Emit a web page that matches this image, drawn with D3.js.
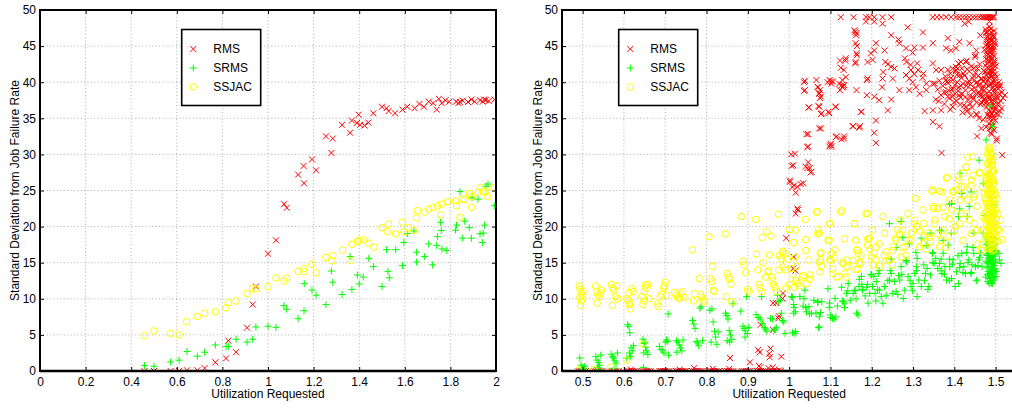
<!DOCTYPE html>
<html>
<head>
<meta charset="utf-8">
<script src="https://cdn.jsdelivr.net/npm/d3@7"></script>
<style>
  body { margin: 0; background: #fff; }
  svg text { font-family: "Liberation Sans", Arial, Helvetica, sans-serif; font-size: 12px; fill: #000; }
</style>
</head>
<body>
<svg id="chart" width="1012" height="408"></svg>
<script>
// ---- tick labels ----
var yTicks = [0, 5, 10, 15, 20, 25, 30, 35, 40, 45, 50];
var leftXTicks = [0, 0.2, 0.4, 0.6, 0.8, 1, 1.2, 1.4, 1.6, 1.8, 2];
var rightXTicks = [0.5, 0.6, 0.7, 0.8, 0.9, 1, 1.1, 1.2, 1.3, 1.4, 1.5];
var seriesNames = ["RMS", "SRMS", "SSJAC"];

// ---- left panel: [utilization, std dev] ----
var leftRMS = [
  [0.458,0],[0.5,0],[0.573,0],[0.61,0],[0.645,0.1],[0.69,0.1],[0.722,0.4],[0.769,1.2],
  [0.816,1.75],[0.826,4.2],[0.86,2.6],[0.908,6.0],[0.933,9.2],[0.947,11.7],[1.0,16.25],
  [1.035,18.1],[1.07,23.1],[1.082,22.6],[1.132,27.2],[1.156,28.4],[1.158,26.0],[1.193,29.3],
  [1.211,27.8],[1.254,32.5],[1.278,30.2],[1.284,32.2],[1.325,34.1],[1.36,33.0],[1.368,34.7],
  [1.398,35.5],[1.39,34.35],[1.404,34.1],[1.423,34.0],[1.44,34.4],[1.462,35.7],[1.5,36.6],
  [1.52,36.4],[1.529,36.0],[1.557,35.7],[1.59,36.2],[1.611,36.6],[1.643,36.4],[1.664,37.0],
  [1.684,36.6],[1.705,37.3],[1.725,37.1],[1.74,36.2],[1.749,37.7],[1.762,37.1],[1.778,37.5],
  [1.795,37.3],[1.825,37.3],[1.842,37.25],[1.854,37.45],[1.877,37.25],[1.892,37.6],[1.906,37.3],
  [1.93,37.5],[1.942,37.3],[1.956,37.55],[1.968,37.4],[1.994,37.6],[1.835,37.1],[1.948,37.6]
];
var leftSRMS = [
  [0.458,0.75],[0.5,0.65],[0.573,1.25],[0.61,1.5],[0.645,2.7],[0.69,2.05],[0.722,2.6],[0.769,3.6],
  [0.816,3.4],[0.826,3.4],[0.86,4.4],[0.908,4.0],[0.933,4.4],[0.947,6.1],[1.0,6.2],[1.035,6.05],
  [1.07,9.05],[1.082,8.55],[1.132,7.25],[1.158,8.35],[1.159,12.1],[1.193,11.2],[1.211,10.5],
  [1.254,9.2],[1.278,13.85],[1.284,12.3],[1.325,10.6],[1.36,15.85],[1.368,11.3],[1.392,13.3],
  [1.4,12.05],[1.418,13.0],[1.442,15.6],[1.462,14.45],[1.5,11.7],[1.52,16.8],[1.526,13.8],
  [1.532,12.9],[1.56,16.8],[1.59,14.6],[1.596,17.8],[1.611,19.05],[1.64,19.4],[1.652,15.1],
  [1.652,16.45],[1.687,15.85],[1.705,17.6],[1.722,14.7],[1.74,17.4],[1.743,18.6],[1.757,20.6],
  [1.76,19.45],[1.763,16.9],[1.784,16.7],[1.822,19.5],[1.827,20.2],[1.842,24.85],[1.854,18.4],
  [1.863,20.75],[1.883,19.85],[1.892,18.4],[1.895,24.0],[1.921,23.8],[1.93,19.0],[1.94,17.8],
  [1.944,19.1],[1.95,20.2],[1.956,25.6],[1.965,25.9],[1.994,22.9]
];
var leftSSJAC = [
  [0.458,4.9],[0.5,5.55],[0.573,5.2],[0.61,5.0],[0.643,6.85],[0.69,7.55],[0.722,8.0],[0.769,8.2],
  [0.816,8.75],[0.826,9.45],[0.86,9.7],[0.908,10.75],[0.933,11.45],[0.947,11.35],[1.0,11.7],
  [1.035,12.9],[1.07,12.45],[1.082,12.85],[1.132,13.8],[1.158,14.2],[1.158,13.75],[1.193,14.8],
  [1.211,13.6],[1.254,15.75],[1.281,15.25],[1.284,16.0],[1.327,16.75],[1.363,15.3],[1.368,17.55],
  [1.392,17.95],[1.4,18.1],[1.42,18.15],[1.442,17.7],[1.465,17.15],[1.5,19.85],[1.523,19.3],
  [1.529,20.35],[1.56,19.0],[1.59,20.6],[1.596,19.25],[1.617,19.85],[1.64,19.45],[1.652,21.2],
  [1.655,22.2],[1.687,22.0],[1.705,22.4],[1.722,22.65],[1.743,22.85],[1.757,21.65],[1.76,23.1],
  [1.787,23.45],[1.822,23.55],[1.827,22.85],[1.842,21.3],[1.854,23.8],[1.863,23.7],[1.883,24.6],
  [1.892,24.15],[1.892,22.65],[1.921,24.75],[1.933,25.4],[1.944,24.9],[1.956,24.85],[1.962,24.15],
  [1.991,25.4]
];

// ---- right panel ----
var rightRMS = [
  // zero row
  [0.488,0],[0.492,0],[0.497,0],[0.503,0],[0.508,0],[0.528,0],[0.533,0],[0.538,0],[0.543,0],[0.548,0],
  [0.567,0],[0.572,0],[0.577,0],[0.582,0],[0.588,0],[0.607,0],[0.611,0],[0.616,0],[0.621,0],[0.626,0],
  [0.631,0],[0.645,0],[0.65,0],[0.655,0],[0.66,0],[0.665,0],[0.686,0],[0.69,0],[0.695,0],[0.7,0],
  [0.705,0],[0.71,0],[0.726,0],[0.73,0],[0.735,0],[0.74,0],[0.745,0],[0.75,0],[0.765,0],[0.77,0],
  [0.775,0],[0.78,0],[0.785,0],[0.79,0],[0.805,0],[0.81,0],[0.815,0],[0.82,0],[0.825,0],[0.83,0],
  [0.845,0],[0.85,0],[0.855,0],[0.86,0],[0.865,0],[0.885,0],[0.89,0],[0.895,0],[0.9,0],[0.905,0],
  [0.922,0],[0.927,0],[0.932,0],[0.937,0],[0.942,0],[0.955,0],[0.96,0],[0.965,0],[0.97,0],[0.98,0],
  [0.77,0.4],[0.815,0.3],[0.855,0.3],[0.93,0.5],[0.95,0.4],[0.965,0.2],[0.617,0.2],[0.735,0.2],
  // low values before 1.0
  [0.857,1.8],[0.905,1.2],[0.925,2.9],[0.929,2.6],[0.927,0.7],[0.953,1.9],[0.955,3.1],[0.952,2.4],
  [0.961,9.4],[0.969,9.4],[0.975,7.6],[0.961,5.7],[0.974,7.3],[0.981,2.0],[0.985,10.75],[0.984,10.05],
  [0.993,18.4],[0.931,6.4],[0.976,0.1],[0.96,0.5],
  // jump after 1.0
  [1.002,26.2],[1.008,25.5],[1.01,28.5],[1.014,30.1],[1.011,15.8],[1.01,14.2],[1.015,13.9],[1.016,21.8],
  [1.02,22.5],[1.021,22.3],[1.016,24.7],[1.02,25.5],[1.034,26.0],[1.04,28.3],[1.046,28.9],[1.05,28.1],
  [1.054,27.6],[1.046,31.1],[1.046,32.8],[1.048,36.5],[1.038,40.2],[1.038,38.9],[1.005,30.0],[1.006,28.4],
  [1.044,28.1],[1.052,27.5],[1.002,26.4],[1.012,25.7],[1.028,25.9],[1.042,32.8],[1.044,31.0],
  // 1.06 - 1.35
  [1.066,40.3],[1.07,39.3],[1.073,38.5],[1.075,37.8],[1.071,36.7],[1.079,35.7],[1.077,33.6],[1.075,38.9],
  [1.098,40.3],[1.102,39.8],[1.106,40.1],[1.095,35.9],[1.1,31.3],[1.103,31.1],[1.113,36.6],[1.115,32.5],
  [1.127,32.1],[1.133,32.5],[1.123,38.9],[1.127,39.6],[1.131,39.4],[1.129,40.3],[1.123,43.0],[1.137,43.3],
  [1.132,41.7],[1.158,47.2],[1.163,46.8],[1.161,45.4],[1.163,44.0],[1.161,42.8],[1.163,38.9],[1.155,33.9],
  [1.171,33.9],[1.175,35.9],[1.069,39.35],[1.073,38.4],[1.077,38.0],[1.036,40.0],[1.036,38.8],[1.047,36.5],
  [1.073,36.6],[1.077,35.6],[1.097,35.7],[1.112,36.6],[1.073,33.6],[1.097,31.1],[1.101,31.5],[1.113,32.4],
  [1.133,32.2],[1.154,33.9],[1.17,33.7],[1.174,35.9],[1.21,34.7],[1.206,33.0],[1.21,31.6],[1.188,38.2],
  [1.206,38.0],[1.218,37.5],[1.239,36.1],[1.247,37.6],[1.267,38.9],[1.291,38.9],[1.316,38.4],[1.332,38.9],
  [1.348,36.1],[1.368,36.1],[1.328,36.0],[1.348,34.5],[1.364,33.9],[1.369,30.2],[1.137,40.7],[1.133,39.6],
  [1.129,39.3],[1.121,39.8],[1.101,40.1],[1.093,40.0],[1.228,41.4],[1.226,40.5],[1.225,39.3],[1.19,40.5],
  [1.188,40.3],[1.136,43.0],[1.125,42.0],[1.19,42.8],[1.202,43.1],[1.233,42.8],[1.239,42.5],[1.247,42.1],
  [1.255,41.9],[1.28,43.3],[1.284,42.8],[1.294,42.4],[1.31,42.6],[1.312,41.7],[1.283,41.0],[1.303,41.1],
  [1.325,41.2],[1.348,42.6],[1.356,41.7],[1.368,41.7],[1.384,41.7],[1.396,41.9],[1.404,41.7],[1.416,42.8],
  [1.428,42.8],[1.451,43.75],[1.21,45.4],[1.206,44.4],[1.231,44.4],[1.198,44.0],[1.164,45.0],[1.164,43.75],
  [1.16,42.6],[1.287,47.6],[1.324,46.9],[1.16,47.0],[1.162,46.5],[1.247,46.5],[1.265,45.9],[1.267,45.4],
  [1.283,44.7],[1.303,44.8],[1.299,44.1],[1.324,44.8],[1.348,45.4],[1.384,46.1],[1.412,45.6],[1.437,45.4],
  [1.38,44.7],[1.392,44.4],[1.404,44.7],[1.463,46.5],[1.453,44.4],[1.251,40.5],[1.291,40.5],[1.299,40.0],
  [1.307,39.3],[1.323,40.6],[1.332,39.8],[1.348,39.8],[1.38,40.3],[1.295,41.7],[1.433,36.1],[1.453,35.6],
  [1.455,32.5],[1.477,33.8],[1.485,35.4],[1.502,31.9],[1.503,32.2],[1.516,29.9],[1.522,38.2],[1.51,39.35],
  [1.494,37.5],[1.43,36.0],[1.455,35.5],[1.47,34.8],[1.465,33.6],[1.186,48.4],[1.206,48.4],[1.226,48.1],
  [1.425,48.1],[1.435,48.4],[1.485,48.4],[1.485,47.7],
  // clipped top row
  [1.125,49],[1.156,49],[1.186,49],[1.194,49],[1.206,49],[1.226,49],[1.247,49],[1.348,49],[1.358,49],
  [1.368,49],[1.38,49],[1.392,49],[1.404,49],[1.412,49],[1.42,49],[1.428,49],[1.436,49],[1.445,49],
  [1.452,49],[1.46,49],[1.466,49],[1.47,49],[1.474,49],[1.478,49],[1.481,49],[1.484,49],[1.487,49],
  [1.49,49],[1.493,49],[1.496,49],
  // dense cloud 1.35 - 1.47
  [1.372,39.5],[1.378,40.8],[1.381,38.6],[1.385,39.9],[1.388,37.8],[1.39,41.2],[1.393,39.0],[1.396,40.3],
  [1.398,38.2],[1.401,39.6],[1.403,41.5],[1.405,37.4],[1.407,40.0],[1.409,38.8],[1.411,39.3],[1.413,41.0],
  [1.415,37.9],[1.417,40.6],[1.419,38.4],[1.421,39.8],[1.423,36.8],[1.425,40.9],[1.427,38.9],[1.429,39.5],
  [1.431,41.8],[1.433,37.6],[1.435,40.2],[1.437,38.1],[1.439,39.7],[1.441,42.2],[1.443,36.5],[1.445,40.5],
  [1.447,38.7],[1.449,39.2],[1.451,41.3],[1.453,37.2],[1.455,40.0],[1.457,38.5],[1.459,39.6],[1.461,42.5],
  [1.463,36.9],[1.465,40.4],[1.467,38.3],[1.469,39.1],[1.471,41.6],[1.384,38.0],[1.396,36.6],[1.41,42.6],
  [1.42,35.8],[1.43,43.0],[1.44,35.4],[1.45,43.5],[1.46,35.0],[1.39,36.2],[1.376,37.0],[1.368,38.2],
  [1.364,40.2],[1.36,39.0],[1.355,37.6],[1.352,39.8],
  [1.382,40.0],[1.386,38.9],[1.392,40.6],[1.397,39.1],[1.402,38.4],[1.406,41.0],[1.412,38.2],[1.416,39.5],
  [1.422,41.2],[1.426,37.9],[1.432,39.9],[1.436,41.5],[1.442,39.0],[1.446,37.7],[1.452,39.9],[1.456,41.9],
  [1.462,38.2],[1.466,37.2],[1.399,37.2],[1.414,36.9],[1.428,36.6],[1.438,37.0],[1.418,41.9],[1.404,42.1],
  [1.448,42.0],[1.395,38.0],[1.375,38.6],[1.362,37.4],
  // dense column at 1.48 - 1.5
  [1.478,47.0],[1.484,46.6],[1.49,46.9],[1.495,46.2],[1.48,45.8],[1.487,45.5],[1.493,45.9],[1.476,45.1],
  [1.483,44.8],[1.489,44.4],[1.496,44.9],[1.479,44.0],[1.486,43.6],[1.492,43.9],[1.477,43.2],[1.483,42.8],
  [1.49,42.5],[1.497,43.0],[1.48,42.0],[1.487,41.7],[1.494,41.9],[1.474,41.4],[1.478,40.9],[1.484,40.6],
  [1.49,40.8],[1.496,40.3],[1.502,40.7],[1.47,40.1],[1.476,39.8],[1.482,39.5],[1.488,39.9],[1.494,39.3],
  [1.5,39.6],[1.506,39.1],[1.472,38.9],[1.478,38.5],[1.485,38.7],[1.491,38.2],[1.497,38.6],[1.503,38.0],
  [1.509,38.4],[1.468,38.0],[1.474,37.6],[1.48,37.3],[1.487,37.8],[1.493,37.1],[1.499,37.5],[1.505,36.9],
  [1.512,37.4],[1.477,36.5],[1.484,36.2],[1.49,36.6],[1.496,36.0],[1.502,35.6],[1.48,35.5],[1.487,35.0],
  [1.493,35.3],[1.499,34.7],[1.484,34.3],[1.491,33.8],[1.496,33.4],[1.488,33.0],[1.481,41.2],[1.488,41.0],
  [1.495,42.4],[1.485,43.3],[1.491,44.9],[1.482,45.4],[1.488,47.4],[1.492,42.0],[1.476,42.3],[1.499,41.1],
  [1.471,39.4],[1.465,39.0],[1.46,38.6],[1.508,40.0],[1.511,39.6],[1.515,38.6],[1.518,37.8],[1.514,36.4],
  [1.507,35.5],[1.5,36.3],[1.479,46.2],[1.486,44.1],[1.494,46.5],[1.482,43.9],[1.498,45.3],[1.497,42.7],
  [1.473,44.5],[1.475,40.4],
  [1.477,46.8],[1.481,46.3],[1.485,47.2],[1.489,45.7],[1.493,46.4],[1.497,45.6],[1.479,45.3],[1.484,45.0],
  [1.488,44.7],[1.492,44.2],[1.496,43.6],[1.478,43.7],[1.482,43.1],[1.487,42.9],[1.491,43.4],[1.495,41.5],
  [1.479,42.6],[1.483,41.9],[1.489,41.4],[1.493,40.9],[1.497,40.0],[1.481,40.3],[1.486,39.6],[1.491,39.8],
  [1.496,38.9],[1.501,38.3],[1.479,38.0],[1.483,37.9],[1.489,37.4],[1.494,36.8],[1.498,36.3],[1.504,37.7],
  [1.481,36.9],[1.486,36.0],[1.491,35.6],[1.495,35.0],[1.483,35.2],[1.489,34.6],[1.493,34.0],[1.486,33.6],
  [1.49,32.8],[1.485,41.3],[1.49,43.1],[1.486,46.0],[1.494,44.5],[1.48,44.4],[1.476,47.3],[1.497,47.1],
  [1.5,42.2],[1.503,39.4],[1.507,37.1],[1.51,36.0],[1.475,37.1],[1.47,37.6],[1.466,40.5],[1.462,39.7],
  [1.458,40.9],[1.454,38.3],[1.448,40.9],[1.444,38.0]
];
var rightSRMS = [
  [0.493,1.8],[0.496,0.8],[0.499,0.5],[0.502,0.3],[0.497,0.1],[0.505,0.6],
  [0.532,2.0],[0.535,1.5],[0.538,1.2],[0.541,0.8],[0.536,0.5],[0.544,2.2],[0.539,0.2],
  [0.569,2.3],[0.572,2.0],[0.575,1.8],[0.578,1.4],[0.581,1.1],[0.584,2.5],[0.576,0.4],
  [0.609,6.4],[0.612,6.2],[0.614,5.3],[0.617,3.2],[0.62,2.8],[0.613,2.5],[0.616,2.0],[0.623,3.5],[0.607,1.8],
  [0.646,4.4],[0.649,3.8],[0.652,3.3],[0.655,2.8],[0.648,2.5],[0.658,2.3],[0.651,4.0],[0.647,0.5],
  [0.686,3.4],[0.69,3.0],[0.694,2.8],[0.697,2.5],[0.7,4.0],[0.703,4.3],[0.706,4.1],[0.707,7.9],[0.708,2.2],
  [0.727,4.2],[0.731,4.0],[0.734,3.6],[0.737,3.2],[0.74,2.8],[0.728,2.6],[0.743,4.3],
  [0.766,7.0],[0.769,6.5],[0.772,5.9],[0.775,4.1],[0.778,3.9],[0.781,3.5],[0.784,8.7],[0.787,8.9],[0.79,4.2],
  [0.808,8.4],[0.813,8.6],[0.816,6.8],[0.819,5.5],[0.822,4.7],[0.811,4.0],[0.825,3.7],[0.828,5.4],
  [0.846,8.0],[0.849,7.7],[0.852,7.2],[0.855,5.6],[0.858,5.0],[0.861,4.4],[0.85,4.2],[0.864,9.3],[0.856,4.0],
  [0.883,8.3],[0.897,10.3],[0.888,6.2],[0.891,5.9],[0.894,5.6],[0.899,5.2],[0.893,4.7],[0.902,6.0],
  [0.92,7.8],[0.925,7.4],[0.93,7.2],[0.935,6.6],[0.94,6.0],[0.943,5.8],[0.946,5.5],[0.933,10.3],
  [0.955,7.3],[0.96,7.2],[0.963,5.6],[0.966,5.8],[0.969,6.0],[0.972,10.5],[0.975,9.6],[0.978,9.8],
  [0.981,8.0],[0.984,7.0],[0.987,6.8],[0.99,5.2],
  // 1.0 - 1.47
  [1.006,10.3],[1.011,9.2],[1.015,8.2],[1.011,8.0],[1.016,5.45],[1.014,5.2],[1.026,10.3],[1.034,9.0],
  [1.038,11.2],[1.042,8.2],[1.048,8.9],[1.054,8.0],[1.06,9.8],[1.065,8.0],[1.07,9.6],[1.073,7.5],
  [1.076,8.1],[1.079,9.6],[1.073,6.1],[1.094,11.4],[1.098,9.4],[1.1,7.75],[1.105,7.3],[1.111,10.05],
  [1.113,7.5],[1.127,11.6],[1.131,9.6],[1.135,9.4],[1.139,10.75],[1.143,12.1],[1.148,9.8],[1.155,10.75],
  [1.159,11.2],[1.163,8.0],[1.167,7.75],[1.169,11.7],[1.175,13.1],[1.177,11.2],[1.187,11.6],[1.191,9.4],
  [1.195,10.75],[1.199,13.3],[1.202,11.7],[1.205,13.1],[1.208,10.75],[1.211,12.4],[1.216,13.5],[1.219,11.2],
  [1.223,10.3],[1.227,9.4],[1.231,11.7],[1.235,10.5],[1.243,12.6],[1.247,13.5],[1.251,10.75],[1.255,12.4],
  [1.259,11.0],[1.268,12.6],[1.271,14.45],[1.276,10.05],[1.28,11.2],[1.284,15.1],[1.288,13.1],[1.295,11.7],
  [1.3,12.1],[1.304,13.5],[1.308,14.45],[1.31,10.3],[1.31,15.6],[1.314,12.6],[1.32,11.7],[1.326,14.7],
  [1.33,13.5],[1.334,14.2],[1.338,11.7],[1.342,13.3],[1.347,16.3],[1.351,14.9],[1.355,15.6],[1.36,14.2],
  [1.364,14.9],[1.37,13.5],[1.373,16.3],[1.377,14.45],[1.381,12.6],[1.389,14.45],[1.393,12.8],[1.397,15.4],
  [1.402,11.7],[1.405,13.75],[1.41,12.1],[1.414,14.9],[1.418,16.3],[1.423,14.45],[1.427,13.5],[1.431,17.2],
  [1.435,15.4],[1.44,13.5],[1.443,14.7],[1.447,16.3],[1.451,14.45],[1.455,12.6],[1.459,15.4],[1.463,16.3],
  [1.467,14.45],[1.47,19.1],
  [1.008,10.2],[1.012,8.8],[1.008,5.3],[1.036,10.0],[1.04,8.8],[1.049,7.9],[1.069,9.5],[1.071,6.0],
  [1.097,8.8],[1.101,7.4],[1.109,7.2],[1.117,9.0],[1.129,9.7],[1.134,8.8],[1.142,11.1],[1.162,10.0],
  [1.17,12.7],[1.178,11.3],[1.184,10.4],[1.19,12.0],[1.198,13.4],[1.21,9.7],[1.214,11.3],[1.239,12.5],
  [1.245,13.9],[1.263,10.6],[1.273,13.4],[1.283,15.3],[1.293,12.5],[1.299,11.1],[1.309,13.9],[1.328,12.5],
  [1.336,11.3],[1.348,15.0],[1.368,13.9],[1.376,13.4],[1.388,12.5],[1.395,14.8],[1.413,14.35],[1.421,13.65],
  [1.433,15.05],[1.441,13.65],[1.453,12.5],[1.457,14.6],[1.461,15.7],[1.445,17.1],[1.429,16.4],[1.409,15.97],
  [1.388,15.5],[1.368,15.5],[1.348,16.4],[1.332,17.4],[1.307,16.4],[1.291,17.6],[1.275,18.5],[1.259,17.1],
  [1.243,20.4],[1.247,15.5],[1.265,13.2],[1.218,13.9],[1.176,12.0],[1.16,11.1],
  [1.393,23.2],[1.414,27.4],[1.418,24.6],[1.436,22.8],[1.46,29.2],[1.47,26.0],[1.477,32.0],[1.486,36.7],
  [1.492,33.9],[1.393,19.1],[1.41,21.4],[1.431,21.4],[1.447,19.1],[1.271,20.7],[1.342,19.1],[1.364,19.5],
  [1.373,18.1],[1.385,17.45],[1.32,18.4],[1.388,23.1],[1.413,22.45],[1.368,19.4],[1.441,24.8],
  // dense column
  [1.478,17.5],[1.48,16.2],[1.481,15.0],[1.482,13.8],[1.483,17.0],[1.484,14.5],[1.485,12.8],[1.486,16.6],
  [1.487,15.5],[1.488,13.2],[1.489,14.0],[1.49,17.8],[1.491,12.5],[1.492,15.8],[1.493,14.8],[1.494,16.9],
  [1.495,13.5],[1.496,15.2],[1.497,12.9],[1.498,14.2],[1.479,14.3],[1.481,12.4],[1.483,15.6],[1.485,16.0],
  [1.487,13.7],[1.489,16.4],[1.491,14.4],[1.493,13.0],[1.495,17.3],[1.497,16.1],[1.48,18.3],[1.486,18.0],
  [1.492,18.5],[1.498,17.6],[1.484,12.1],[1.49,12.2],[1.496,12.6],[1.482,16.8],[1.488,15.1],[1.494,14.1],
  [1.509,15.4],[1.513,14.9],[1.508,16.3],[1.5,13.1],[1.475,21.5],[1.49,24.0],[1.495,23.0],
  [1.479,16.0],[1.481,17.7],[1.483,13.3],[1.485,15.3],[1.487,17.3],[1.489,12.8],[1.491,16.0],[1.493,17.1],
  [1.495,15.9],[1.497,14.6],[1.482,14.9],[1.484,16.3],[1.486,13.5],[1.488,16.9],[1.49,14.9],[1.492,13.6],
  [1.494,15.5],[1.496,13.9],[1.498,16.7],[1.48,13.4],[1.486,12.2],[1.492,12.1],[1.483,18.6],[1.489,18.8],
  [1.495,18.2],[1.499,15.0],[1.501,16.6],[1.502,13.8],[1.477,15.2],[1.476,13.0]
];
var rightSSJAC = [
  [0.49,0.1],[0.527,0.2],[0.568,0.5],[0.607,1.5],[0.646,3.7],
  [0.492,11.8],[0.494,11.3],[0.496,10.8],[0.493,10.2],[0.497,9.7],[0.495,9.1],[0.499,10.5],[0.501,11.0],
  [0.531,11.8],[0.534,11.0],[0.537,10.6],[0.54,10.3],[0.535,9.4],[0.543,10.8],[0.546,11.2],
  [0.57,12.0],[0.573,11.5],[0.576,11.2],[0.572,9.1],[0.579,10.3],[0.582,11.8],[0.585,10.0],
  [0.607,10.0],[0.61,9.8],[0.613,9.2],[0.616,8.6],[0.619,11.4],[0.612,10.8],[0.622,11.0],[0.615,9.5],
  [0.643,10.3],[0.646,9.2],[0.649,9.7],[0.652,11.9],[0.655,11.5],[0.658,12.0],[0.65,11.0],[0.661,10.0],
  [0.681,9.3],[0.684,8.9],[0.688,10.3],[0.692,10.6],[0.696,11.5],[0.7,12.3],[0.698,11.8],[0.703,10.5],
  [0.722,10.9],[0.726,10.5],[0.73,10.2],[0.734,10.0],[0.738,10.7],[0.742,11.0],[0.745,10.2],
  [0.766,16.8],[0.768,9.7],[0.771,10.7],[0.782,12.8],[0.786,10.6],[0.789,10.2],[0.792,9.8],[0.795,9.6],
  [0.806,18.6],[0.81,12.8],[0.813,12.4],[0.816,11.2],[0.819,11.0],[0.815,14.5],[0.85,13.5],[0.853,13.0],
  [0.856,12.7],[0.859,12.0],[0.848,10.3],[0.861,9.6],[0.845,19.0],[0.884,21.4],[0.888,15.2],[0.891,14.7],
  [0.895,13.6],[0.899,11.3],[0.903,11.0],[0.919,21.0],[0.921,16.2],[0.924,14.0],[0.927,12.0],[0.93,11.5],
  [0.934,11.0],[0.937,15.0],[0.946,19.3],[0.956,18.7],[0.952,16.1],[0.949,13.7],[0.958,13.0],[0.962,12.0],
  [0.966,11.5],[0.97,11.0],[0.974,21.7],
  [0.985,16.6],[0.99,16.2],[0.975,14.0],[0.98,15.5],[0.992,11.5],[1.0,12.0],[1.005,14.2],[0.99,14.0],
  [0.943,13.0],[0.95,13.9],[0.96,12.5],[0.976,16.0],[0.984,16.4],[0.985,14.4],[0.996,15.5],[0.935,18.5],
  // 1.0 - 1.47
  [1.0,19.6],[1.015,19.5],[1.011,17.8],[1.015,15.8],[1.018,14.5],[1.02,12.1],[1.024,11.8],[1.039,21.0],
  [1.04,18.2],[1.047,15.4],[1.042,12.1],[1.05,13.3],[1.034,13.25],[1.068,22.1],[1.071,19.6],[1.073,19.1],
  [1.075,16.3],[1.076,15.4],[1.075,13.7],[1.078,14.5],[1.1,20.45],[1.097,18.1],[1.098,15.4],[1.103,16.3],
  [1.106,13.5],[1.119,13.1],[1.111,16.8],[1.131,14.9],[1.135,13.5],[1.127,22.2],[1.139,15.4],[1.143,14.5],
  [1.158,20.4],[1.161,18.1],[1.163,16.8],[1.167,16.3],[1.167,14.1],[1.173,14.9],[1.189,21.8],[1.19,17.45],
  [1.194,18.4],[1.199,15.8],[1.202,19.5],[1.203,14.7],[1.21,15.4],[1.211,17.2],[1.219,14.45],[1.227,21.4],
  [1.231,19.1],[1.235,16.5],[1.243,15.4],[1.25,14.7],[1.251,17.2],[1.258,18.4],[1.263,19.6],[1.268,20.9],
  [1.271,15.8],[1.274,19.5],[1.28,17.2],[1.288,21.8],[1.29,18.2],[1.296,19.1],[1.304,20.9],[1.306,23.9],
  [1.31,20.0],[1.316,17.2],[1.324,22.3],[1.326,20.45],[1.328,18.6],[1.336,19.1],[1.342,17.9],[1.347,25.1],
  [1.35,22.8],[1.353,20.9],[1.36,22.5],[1.364,17.2],[1.37,24.8],[1.373,19.5],[1.377,21.4],[1.381,26.7],
  [1.385,18.6],[1.389,23.7],[1.393,22.3],[1.397,24.8],[1.402,20.0],[1.405,25.1],[1.41,26.9],[1.414,23.7],
  [1.416,21.8],[1.421,27.4],[1.424,25.5],[1.429,28.3],[1.433,23.7],[1.436,20.9],[1.441,26.45],[1.444,29.7],
  [1.447,24.1],[1.452,19.5],[1.455,22.8],[1.461,27.4],[1.468,25.5],[1.469,21.4],[1.473,24.6],[1.477,26.45],
  [1.066,22.0],[1.125,22.0],[1.186,21.8],[1.097,20.4],[1.158,20.4],[1.069,19.0],[1.094,18.1],[1.134,18.3],
  [1.166,16.7],[1.19,18.3],[1.196,16.9],[1.206,16.4],[1.218,17.6],[1.231,16.0],[1.235,15.3],[1.251,16.7],
  [1.259,18.1],[1.267,19.0],[1.275,17.1],[1.283,16.0],[1.295,18.1],[1.303,20.4],[1.316,19.4],[1.324,17.6],
  [1.332,16.9],[1.34,18.5],[1.35,22.5],[1.352,20.4],[1.36,19.0],[1.368,18.1],[1.372,22.7],[1.38,17.1],
  [1.388,21.1],[1.4,19.4],[1.413,20.4],[1.421,18.1],[1.429,21.8],[1.441,19.0],[1.449,20.4],[1.457,17.6],
  [1.465,16.7],[1.04,16.7],[1.077,16.4],[1.073,15.05],[1.101,15.3],[1.109,15.7],[1.105,14.1],[1.115,13.0],
  [1.129,15.05],[1.139,14.4],[1.138,13.0],[1.154,15.3],[1.162,14.1],[1.17,15.05],[1.174,16.0],[1.008,13.4],
  [1.012,11.6],[1.016,12.5],[1.032,13.0],[1.049,12.7],
  [1.433,29.6],[1.429,28.2],[1.383,26.8],[1.445,27.1],[1.461,27.5],[1.411,26.4],[1.417,25.5],[1.441,25.7],
  [1.346,24.9],[1.364,24.9],[1.397,24.9],[1.421,24.3],[1.449,24.5],
  // dense column
  [1.486,31.0],[1.482,30.3],[1.482,30.8],[1.488,30.3],[1.485,29.6],[1.491,29.1],[1.48,28.7],[1.487,28.2],
  [1.493,27.8],[1.483,27.3],[1.489,26.9],[1.495,26.4],[1.48,26.0],[1.486,25.6],[1.492,25.2],[1.497,24.7],
  [1.482,24.4],[1.488,24.0],[1.494,23.6],[1.479,23.2],[1.485,22.8],[1.491,22.4],[1.496,22.0],[1.481,21.6],
  [1.487,21.2],[1.493,20.8],[1.478,20.4],[1.484,20.0],[1.49,19.6],[1.496,19.2],[1.48,18.8],[1.486,18.4],
  [1.492,18.0],[1.498,17.6],[1.483,17.3],[1.489,17.0],[1.495,16.8],[1.487,29.0],[1.49,27.5],[1.484,26.2],
  [1.49,24.8],[1.486,23.4],[1.49,21.9],[1.484,21.0],[1.49,20.3],[1.486,19.1],[1.49,17.8],[1.494,25.9],
  [1.494,21.4],[1.478,25.3],[1.478,22.0],[1.498,23.0],[1.498,20.5],[1.476,18.5],[1.5,19.0],[1.502,21.0],
  [1.503,23.8],[1.472,21.8],[1.474,24.0],[1.47,19.5],[1.468,17.5],[1.505,18.0],
  [1.506,21.8],[1.509,19.5],[1.515,18.2],[1.512,20.9],
  [1.481,29.9],[1.486,30.6],[1.49,30.0],[1.484,28.9],[1.489,28.5],[1.493,29.4],[1.482,27.9],[1.486,27.1],
  [1.491,26.3],[1.495,27.7],[1.479,27.0],[1.483,25.8],[1.488,25.3],[1.492,24.4],[1.496,25.0],[1.48,24.9],
  [1.484,23.8],[1.489,23.1],[1.493,22.6],[1.497,23.5],[1.481,22.5],[1.486,21.8],[1.49,21.3],[1.494,20.2],
  [1.497,21.7],[1.48,21.1],[1.483,19.6],[1.488,19.9],[1.492,19.4],[1.496,18.6],[1.482,18.1],[1.487,17.6],
  [1.491,17.2],[1.494,17.9],[1.478,19.3],[1.485,18.7],[1.49,18.5],[1.484,16.9],[1.492,16.6],[1.486,24.6],
  [1.487,26.5],[1.488,22.2],[1.486,20.6],[1.5,24.4],[1.501,22.3],[1.501,20.1],[1.476,20.9],[1.476,23.6],
  [1.477,26.7],[1.504,19.6]
];

var svg = d3.select("#chart");
var defs = svg.append("defs");

function markPath(kind) {
  if (kind === "x") return "M-3,-3L3,3M-3,3L3,-3";
  return "M-3.5,0H3.5M0,-3.5V3.5";
}

function drawMarks(g, data, kind, color, x, y) {
  if (kind === "o") {
    g.selectAll(null).data(data).enter().append("circle")
      .attr("cx", function(d) { return x(d[0]); })
      .attr("cy", function(d) { return y(d[1]); })
      .attr("r", 3.3)
      .style("fill", "none")
      .style("stroke", color)
      .style("stroke-width", 1);
  } else {
    g.selectAll(null).data(data).enter().append("path")
      .attr("d", markPath(kind))
      .attr("transform", function(d) { return "translate(" + x(d[0]) + "," + y(d[1]) + ")"; })
      .style("fill", "none")
      .style("stroke", color)
      .style("stroke-width", 1);
  }
}

var fmt = function(d) { return String(+d.toFixed(1)); };

/**
 * Draws one MATLAB-style scatter panel.
 */
function drawPanel(p) {
  var x = d3.scaleLinear().domain(p.xDomain).range(p.xRange);
  var y = d3.scaleLinear().domain([0, 50]).range([371, 10]);
  var x0 = p.xRange[0], x1 = p.xRange[1];

  var g = svg.append("g");

  // grid
  g.append("g").selectAll("line").data(p.xTicks.filter(function(t) { return x(t) > x0 + 1 && x(t) < x1 - 1; }))
    .enter().append("line")
    .attr("x1", function(d) { return x(d); }).attr("x2", function(d) { return x(d); })
    .attr("y1", 10).attr("y2", 371)
    .style("stroke", "#9a9a9a").style("stroke-width", 0.8).style("stroke-dasharray", "1,2.4");
  g.append("g").selectAll("line").data(yTicks.slice(1, -1))
    .enter().append("line")
    .attr("x1", x0).attr("x2", x1)
    .attr("y1", function(d) { return y(d); }).attr("y2", function(d) { return y(d); })
    .style("stroke", "#9a9a9a").style("stroke-width", 0.8).style("stroke-dasharray", "1,2.4");

  // data
  var clipId = "clip" + p.id;
  defs.append("clipPath").attr("id", clipId).append("rect")
    .attr("x", x0).attr("y", 10).attr("width", x1 - x0).attr("height", 361);
  var dg = g.append("g").attr("clip-path", "url(#" + clipId + ")");
  drawMarks(dg, p.rms, "x", "#ff0000", x, y);
  drawMarks(dg, p.srms, "+", "#00ff00", x, y);
  drawMarks(dg, p.ssjac, "o", "#ffff00", x, y);

  // axes, ticks pointing inward
  var bottom = g.append("g").attr("transform", "translate(0,371)")
    .call(d3.axisBottom(x).tickValues(p.xTicks).tickSize(-4).tickPadding(6).tickFormat(fmt));
  var top = g.append("g").attr("transform", "translate(0,10)")
    .call(d3.axisTop(x).tickValues(p.xTicks).tickSize(-4).tickFormat(""));
  var left = g.append("g").attr("transform", "translate(" + x0 + ",0)")
    .call(d3.axisLeft(y).tickValues(yTicks).tickSize(-4).tickPadding(4).tickFormat(fmt));
  var right = g.append("g").attr("transform", "translate(" + x1 + ",0)")
    .call(d3.axisRight(y).tickValues(yTicks).tickSize(-4).tickFormat(""));
  [bottom, top, left, right].forEach(function(a) {
    a.select(".domain").remove();
    a.selectAll("text").attr("font-family", null).attr("font-size", null).style("fill", "#000");
    a.selectAll(".tick line").style("stroke", "#000");
  });

  // box
  g.append("rect").attr("x", x0).attr("y", 10).attr("width", x1 - x0).attr("height", 361)
    .style("fill", "none").style("stroke", "#000").style("stroke-width", 2);
  g.append("line").attr("x1", x0).attr("x2", x1).attr("y1", 371).attr("y2", 371)
    .style("stroke", "#000").style("stroke-width", 2.6);

  // titles
  g.append("text").attr("x", (x0 + x1) / 2).attr("y", 398).attr("text-anchor", "middle")
    .text("Utilization Requested");
  g.append("text").attr("transform", "translate(" + p.yTitleX + "," + y(25) + ") rotate(-90)")
    .attr("text-anchor", "middle").text("Standard Deviation from Job Failure Rate");

  // legend
  var lg = g.append("g").attr("transform", "translate(" + p.legendX + ",29.5)");
  lg.append("rect").attr("width", 79).attr("height", 76)
    .style("fill", "#fff").style("stroke", "#000").style("stroke-width", 1.6);
  var kinds = ["x", "+", "o"], colors = ["#ff0000", "#00ff00", "#ffff00"];
  seriesNames.forEach(function(name, i) {
    var cy = 19.5 + i * 19;
    if (kinds[i] === "o") {
      lg.append("circle").attr("cx", 11.6).attr("cy", cy).attr("r", 3.3)
        .style("fill", "none").style("stroke", colors[i]);
    } else {
      lg.append("path").attr("d", markPath(kinds[i]))
        .attr("transform", "translate(11.6," + cy + ")")
        .style("fill", "none").style("stroke", colors[i]);
    }
    lg.append("text").attr("x", 31.6).attr("y", cy).attr("dy", "0.35em").text(name);
  });
}

drawPanel({ id: "L", xDomain: [0, 2], xRange: [40, 496], xTicks: leftXTicks,
  rms: leftRMS, srms: leftSRMS, ssjac: leftSSJAC, yTitleX: 19, legendX: 181.7 });
drawPanel({ id: "R", xDomain: [0.45, 1.55], xRange: [562, 1016.3], xTicks: rightXTicks,
  rms: rightRMS, srms: rightSRMS, ssjac: rightSSJAC, yTitleX: 542, legendX: 618.7 });
</script>
</body>
</html>
